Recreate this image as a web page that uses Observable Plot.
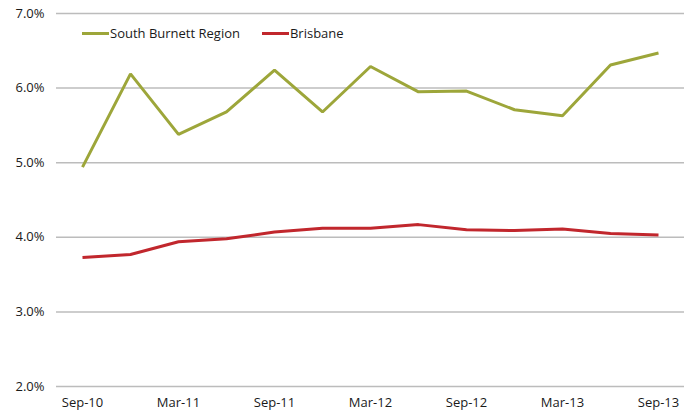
<!DOCTYPE html>
<html>
<head>
<meta charset="utf-8">
<script src="https://cdn.jsdelivr.net/npm/d3@7"></script>
<script src="https://cdn.jsdelivr.net/npm/@observablehq/plot@0.6"></script>
<style>
  html, body { margin: 0; padding: 0; background: #fff; }
  #wrap { position: relative; width: 697px; height: 414px; font-family: "Open Sans", "Noto Sans", sans-serif; }
  #legend { position: absolute; left: 82px; top: 24px; display: flex; align-items: center; font-size: 13px; color: #1a1a1a; }
  .item { display: flex; align-items: center; margin-right: 22px; }
  .sw { width: 27px; height: 3px; margin-right: 1px; }
</style>
</head>
<body>
<div id="wrap"></div>
<script>
const quarters = ["Sep-10","Dec-10","Mar-11","Jun-11","Sep-11","Dec-11","Mar-12","Jun-12","Sep-12","Dec-12","Mar-13","Jun-13","Sep-13"];
const tickLabels = ["Sep-10","Mar-11","Sep-11","Mar-12","Sep-12","Mar-13","Sep-13"];
const southBurnett = [4.94, 6.19, 5.38, 5.68, 6.24, 5.68, 6.29, 5.95, 5.96, 5.71, 5.63, 6.31, 6.47];
const brisbane = [3.73, 3.77, 3.94, 3.98, 4.07, 4.12, 4.12, 4.17, 4.10, 4.09, 4.11, 4.05, 4.03];
const seriesNames = ["South Burnett Region", "Brisbane"];
const seriesColors = ["#9da63a", "#c1272d"];
const yTicks = [2, 3, 4, 5, 6, 7];

const rows = [];
quarters.forEach((q, i) => {
  rows.push({q, v: southBurnett[i], s: seriesNames[0]});
  rows.push({q, v: brisbane[i], s: seriesNames[1]});
});

const chart = Plot.plot({
  width: 697,
  height: 414,
  marginLeft: 56,
  marginRight: 13,
  marginTop: 13,
  marginBottom: 28,
  style: { fontFamily: "'Open Sans', 'Noto Sans', sans-serif", fontSize: "13px", color: "#1a1a1a", background: "#fff" },
  x: { type: "point", domain: quarters, padding: 0.48, label: null, ticks: tickLabels, tickSize: 0, tickPadding: 11 },
  y: { domain: [2, 7], ticks: yTicks, tickFormat: d => d.toFixed(1) + "%", tickSize: 0, tickPadding: 12, label: null },
  color: { domain: seriesNames, range: seriesColors },
  marks: [
    Plot.ruleY(yTicks, { stroke: "#bcbcbc", strokeWidth: 1.5 }),
    Plot.line(rows, { x: "q", y: "v", z: "s", stroke: "s", strokeWidth: 3, strokeLinejoin: "miter", strokeLinecap: "butt" })
  ]
});

const wrap = document.getElementById("wrap");
wrap.appendChild(chart);
const legend = document.createElement("div");
legend.id = "legend";
seriesNames.forEach((n, i) => {
  const it = document.createElement("div");
  it.className = "item";
  const sw = document.createElement("span");
  sw.className = "sw";
  sw.style.background = seriesColors[i];
  const t = document.createElement("span");
  t.textContent = n;
  it.appendChild(sw); it.appendChild(t);
  legend.appendChild(it);
});
wrap.appendChild(legend);
</script>
</body>
</html>
